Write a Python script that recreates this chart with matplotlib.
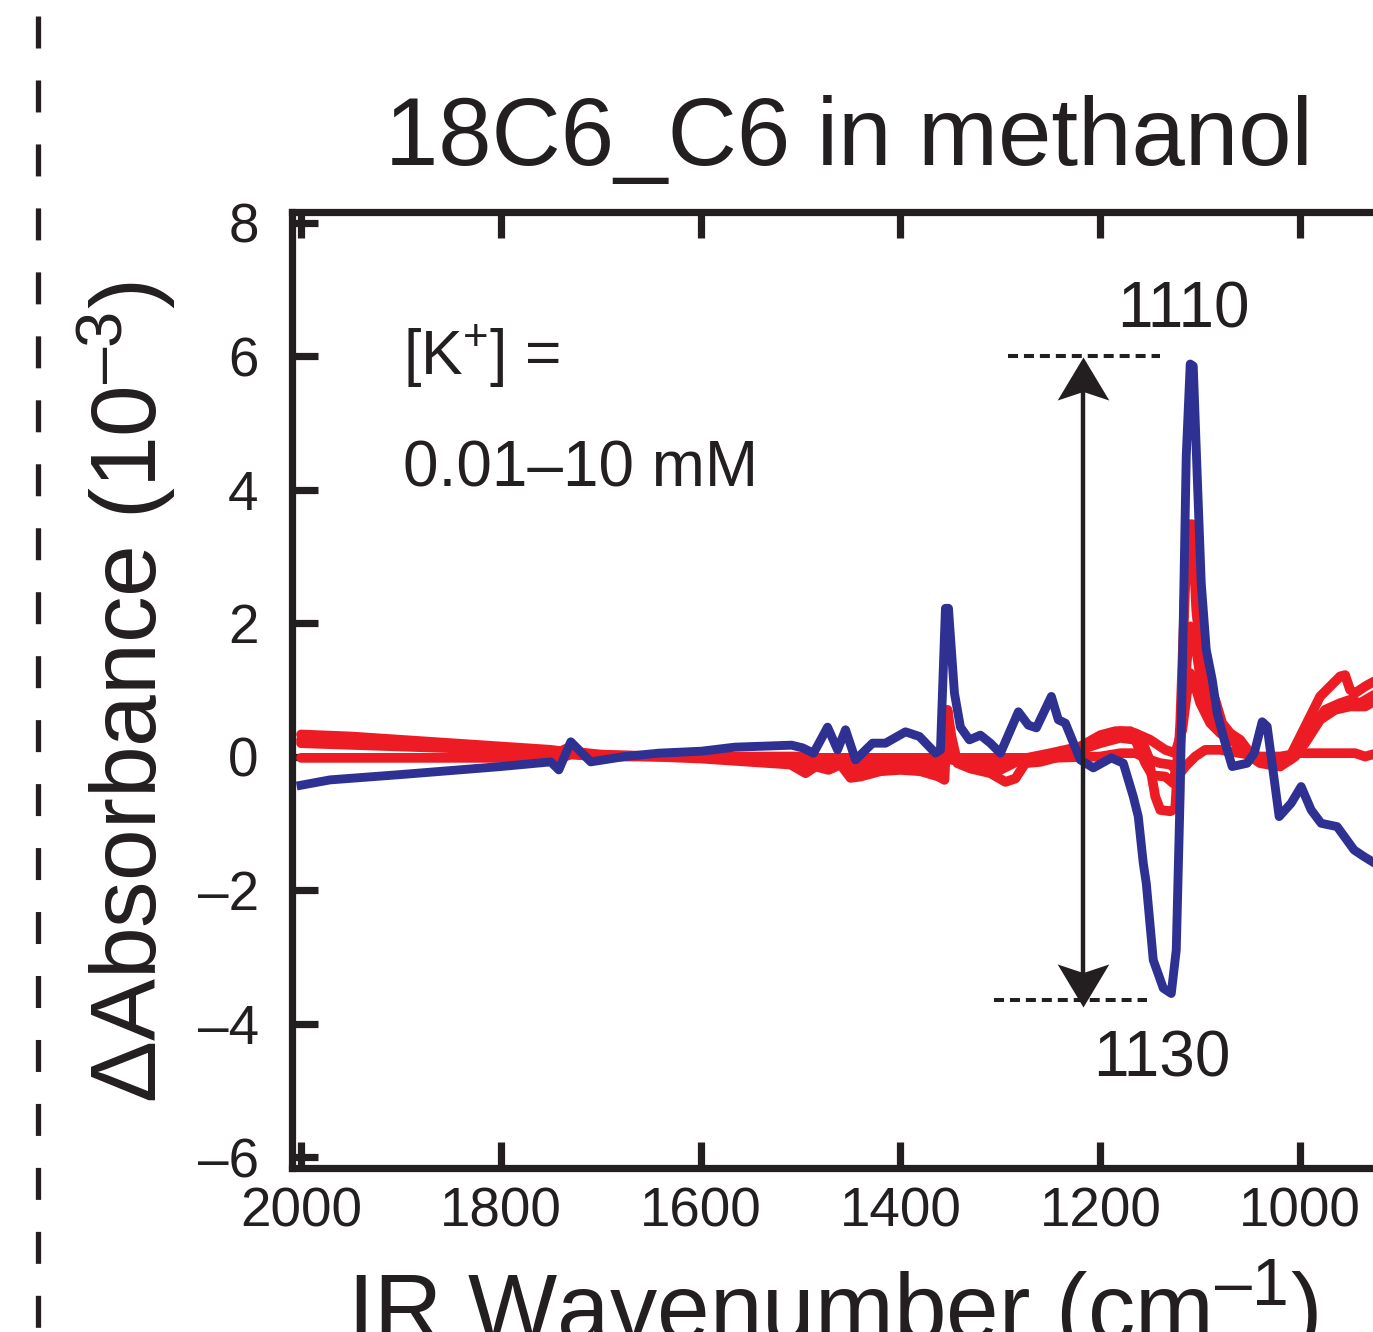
import numpy as np
import matplotlib
matplotlib.use("Agg")
import matplotlib.pyplot as plt
from matplotlib.path import Path
from matplotlib.lines import Line2D

plt.rcParams['font.family'] = ['Liberation Sans', 'DejaVu Sans']
plt.rcParams['mathtext.fontset'] = 'custom'
plt.rcParams['mathtext.rm'] = 'Liberation Sans'
plt.rcParams['mathtext.it'] = 'Liberation Sans:italic'
plt.rcParams['mathtext.bf'] = 'Liberation Sans:bold'

INK = "#231F20"
BLUE = "#2E3192"
RED = "#ED1C24"

# blue trace (highest [K+])
blue_x = [2000, 1971, 1900, 1800, 1750, 1742, 1730, 1710, 1676, 1642, 1599, 1566, 1509, 1498,
          1487, 1473, 1463, 1455, 1445, 1428, 1415, 1395, 1381, 1365, 1360, 1355, 1352, 1346,
          1340, 1331, 1320, 1310, 1300, 1282, 1272, 1264, 1249, 1242, 1235, 1220, 1207, 1189,
          1177, 1167, 1162, 1157, 1154, 1147, 1137, 1129, 1124, 1120, 1117, 1114, 1110, 1107,
          1103, 1099, 1094, 1088, 1083, 1076, 1068, 1053, 1046, 1038, 1033, 1021, 1009, 999,
          989, 979, 963, 946, 936, 923]
blue_y = [-0.43, -0.35, -0.27, -0.15, -0.08, -0.2, 0.22, -0.08, 0.0, 0.05, 0.08, 0.14, 0.17, 0.13,
          0.05, 0.44, 0.10, 0.40, -0.05, 0.20, 0.20, 0.37, 0.30, 0.05, 0.10, 2.22, 2.22, 0.95,
          0.44, 0.25, 0.32, 0.20, 0.05, 0.67, 0.47, 0.43, 0.90, 0.55, 0.50, -0.05, -0.17, -0.02,
          -0.10, -0.6, -0.9, -1.6, -1.9, -3.05, -3.47, -3.55, -2.9, -0.5, 2.0, 4.5, 5.88, 5.85,
          4.2, 2.6, 1.6, 1.15, 0.65, 0.25, -0.15, -0.10, 0.05, 0.52, 0.45, -0.9, -0.7, -0.45,
          -0.8, -1.0, -1.05, -1.4, -1.5, -1.62]

# red traces (lower [K+])
red1_x = [2000, 1950, 1900, 1850, 1800, 1750, 1740, 1730, 1720, 1700, 1650, 1600, 1550, 1510,
          1495, 1485, 1472, 1460, 1450, 1440, 1420, 1400, 1380, 1362, 1356, 1353, 1349, 1343,
          1330, 1310, 1295, 1285, 1275, 1260, 1240, 1220, 1200, 1185, 1170, 1160, 1152, 1145,
          1140, 1130, 1125, 1120, 1114, 1111, 1108, 1104, 1098, 1092, 1085, 1078, 1070, 1060,
          1050, 1040, 1030, 1020, 1010, 1000, 990, 980, 970, 960, 955, 950, 945, 935, 923]
red1_y = [0.33, 0.30, 0.25, 0.20, 0.15, 0.10, 0.08, 0.15, 0.06, 0.03, 0.0, -0.03, -0.08, -0.12,
          -0.25, -0.15, -0.2, -0.12, -0.32, -0.30, -0.22, -0.2, -0.22, -0.3, -0.35, 0.7, 0.3, -0.1,
          -0.18, -0.25, -0.38, -0.33, -0.1, -0.08, 0.0, 0.15, 0.32, 0.38, 0.38, 0.30, 0.0, -0.6,
          -0.8, -0.82, -0.78, 0.5, 3.0, 3.48, 3.48, 2.2, 1.3, 0.95, 0.85, 0.5, 0.35, 0.25,
          0.05, -0.05, -0.1, -0.05, 0.0, 0.3, 0.6, 0.9, 1.05, 1.2, 1.22, 1.0, 0.95, 1.05, 1.15]

red2_x = [2000, 1900, 1800, 1740, 1730, 1720, 1700, 1600, 1500, 1490, 1470, 1450, 1420, 1400,
          1360, 1353, 1348, 1320, 1300, 1280, 1250, 1220, 1200, 1180, 1165, 1155, 1148, 1135,
          1127, 1120, 1113, 1110, 1106, 1100, 1090, 1080, 1070, 1060, 1050, 1040, 1020, 1005,
          990, 975, 960, 950, 940, 923]
red2_y = [0.25, 0.20, 0.12, 0.05, 0.10, 0.03, 0.02, 0.0, -0.05, -0.15, -0.05, -0.2, -0.15, -0.15,
          -0.2, 0.4, -0.05, -0.1, -0.2, -0.05, 0.0, 0.1, 0.2, 0.28, 0.25, -0.1, -0.28, -0.3,
          -0.4, 0.2, 1.5, 1.95, 1.8, 1.2, 0.75, 0.5, 0.3, 0.15, 0.0, -0.1, -0.15, 0.0,
          0.4, 0.7, 0.8, 0.85, 0.8, 0.95]

red3_x = [2000, 1900, 1800, 1740, 1730, 1700, 1600, 1500, 1490, 1460, 1450, 1400, 1360, 1353,
          1348, 1300, 1250, 1220, 1200, 1180, 1165, 1150, 1135, 1125, 1118, 1112, 1110, 1106,
          1100, 1090, 1080, 1065, 1050, 1030, 1010, 995, 980, 965, 950, 935, 923]
red3_y = [0.2, 0.15, 0.1, 0.03, 0.08, 0.01, 0.0, 0.0, -0.1, -0.05, -0.15, -0.1, -0.15, 0.2,
          -0.05, -0.1, 0.05, 0.15, 0.3, 0.38, 0.35, 0.25, 0.1, 0.05, 0.4, 1.1, 1.25, 1.1,
          0.8, 0.5, 0.35, 0.2, 0.05, -0.1, -0.05, 0.2, 0.55, 0.7, 0.75, 0.75, 0.85]

red4_x = [2000, 1900, 1800, 1740, 1730, 1700, 1600, 1500, 1400, 1300, 1250, 1200, 1180, 1165,
          1150, 1140, 1130, 1120, 1115, 1105, 1095, 1080, 1060, 1040, 1020, 1000, 980, 960,
          945, 935, 923]
red4_y = [-0.02, -0.02, -0.02, -0.02, 0.03, 0.0, 0.0, -0.02, -0.02, -0.02, -0.02, 0.0, 0.05, 0.05,
          -0.05, -0.1, -0.12, -0.25, -0.15, 0.0, 0.1, 0.1, 0.05, 0.0, 0.0, 0.05, 0.05, 0.05,
          0.05, 0.0, 0.05]

x_ticks = [2000, 1800, 1600, 1400, 1200, 1000]
x_ticklabels = ["2000", "1800", "1600", "1400", "1200", "1000"]
y_ticks = [8, 6, 4, 2, 0, -2, -4, -6]
y_ticklabels = ["8", "6", "4", "2", "0", "\u20132", "\u20134", "\u20136"]

fig = plt.figure(figsize=(13.73, 13.32), dpi=100)
ax = fig.add_axes([0.2127, 0.1231, 0.807, 0.7177])

for rx, ry in [(red4_x, red4_y), (red3_x, red3_y), (red2_x, red2_y), (red1_x, red1_y)]:
    ax.plot(rx, ry, color=RED, lw=7.0, solid_joinstyle='round', solid_capstyle='round', zorder=2)
ax.plot(blue_x, blue_y, color=BLUE, lw=6.4, solid_joinstyle='round', zorder=3)

ax.set_xticks(x_ticks)
ax.set_xticklabels(x_ticklabels)
ax.set_yticks(y_ticks)
ax.set_yticklabels(y_ticklabels)
ax.set_xlim(2009, 900)
ax.set_ylim(-6.165, 8.157)
for s in ax.spines.values():
    s.set_linewidth(5.2)
    s.set_color(INK)
ax.tick_params(direction='in', length=18.7, width=5.2, color=INK, labelcolor=INK,
               labelsize=39.5, top=True, right=True)
ax.tick_params(axis='x', pad=13)
ax.tick_params(axis='y', pad=24)

# peak-to-peak arrow with concave heads
head = Path([(0, 0), (0.6, -1), (0, -0.8), (-0.6, -1), (0, 0)],
            [Path.MOVETO, Path.LINETO, Path.LINETO, Path.LINETO, Path.CLOSEPOLY])
head_dn = Path([(0, 0), (0.6, 1), (0, 0.8), (-0.6, 1), (0, 0)],
               [Path.MOVETO, Path.LINETO, Path.LINETO, Path.LINETO, Path.CLOSEPOLY])
ax.plot([1217, 1217], [5.6, -3.3], color=INK, lw=3.2, zorder=4)
ax.plot([1217], [5.98], marker=head, ms=62, mew=0, color=INK, zorder=4)
ax.plot([1217], [-3.75], marker=head_dn, ms=62, mew=0, color=INK, zorder=4)
ax.plot([1292, 1140], [6.0, 6.0], color=INK, lw=2.9, dashes=(2.48, 1.48), zorder=4)
ax.plot([1306, 1153], [-3.65, -3.65], color=INK, lw=2.9, dashes=(2.48, 1.48), zorder=4)

ax.text(1116.6, 6.43, "1110", fontsize=46, color=INK, ha='center', va='baseline')
ax.text(1138.7, -4.80, "1130", fontsize=46, color=INK, ha='center', va='baseline')
ax.text(1897.5, 5.72, "[K$^{+}$] =", fontsize=45, color=INK, ha='left', va='baseline')
ax.text(1897.5, 4.04, "0.01\u201310 mM", fontsize=46, color=INK, ha='left', va='baseline')

fig.text(849 / 1373, 1 - 165 / 1332, "18C6_C6 in methanol", fontsize=69, color=INK,
         ha='center', va='baseline')
fig.text(832 / 1373, 1 - 1340 / 1332, "IR Wavenumber (cm$^{\u20131}$)", fontsize=68, color=INK,
         ha='center', va='baseline')
fig.text(127 / 1373, 1 - 692 / 1332, "\u0394Absorbance (10$^{\u20133}$)", fontsize=67, color=INK,
         ha='center', va='center', rotation=90)

# panel separator on the left
fig.add_artist(Line2D([38 / 1373, 38 / 1373], [1 - 16 / 1332, 0], transform=fig.transFigure,
                      color=INK, lw=3.8, dashes=(6.06, 6.06)))

fig.savefig("out.png", dpi=100, facecolor="white")
